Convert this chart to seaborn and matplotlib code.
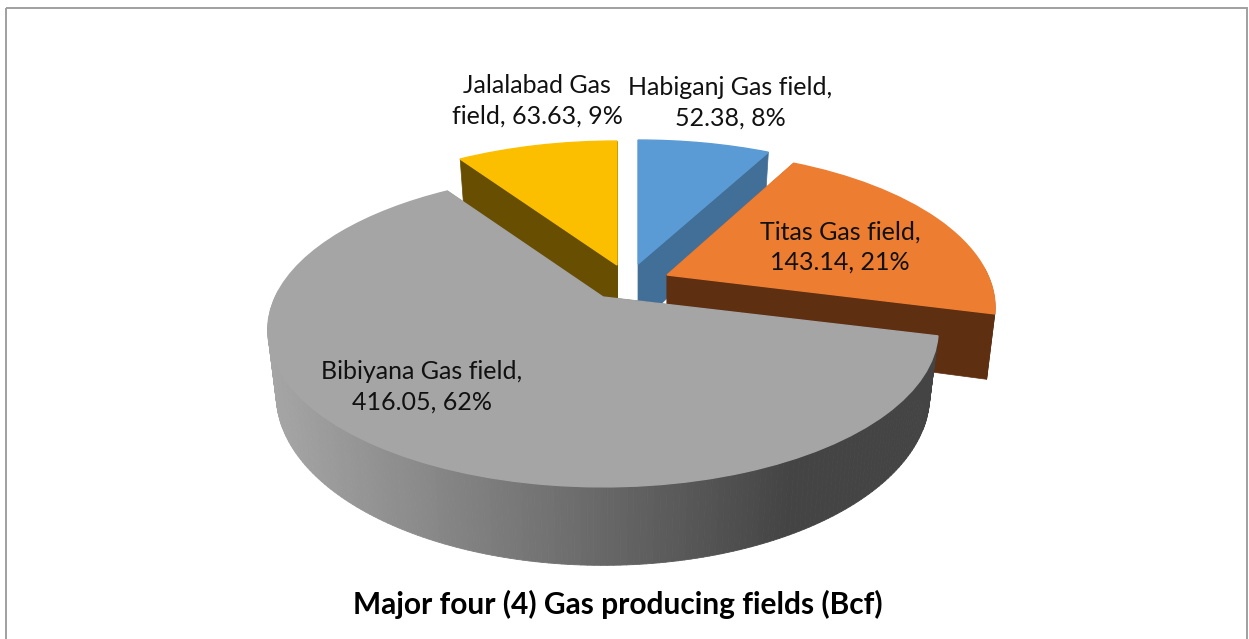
import numpy as np
import matplotlib
matplotlib.use("Agg")
import matplotlib.pyplot as plt
import matplotlib.transforms as mtransforms
from matplotlib.collections import PolyCollection
from matplotlib.colors import to_rgb
from matplotlib.patches import Rectangle
import seaborn as sns

# ---- data ----
fields = ["Habiganj Gas field", "Titas Gas field", "Bibiyana Gas field", "Jalalabad Gas\nfield"]
values = [52.38, 143.14, 416.05, 63.63]
separators = [",\n", ",\n", ",\n", ", "]
title_text = "Major four (4) Gas producing fields (Bcf)"

# ---- styling / layout ----
top_colors = ["#5B9BD5", "#ED7D31", "#A5A5A5", "#FCBF00"]
wall_colors = ["#416F98", "#5F2F12", "#444444", "#674E00"]
apex_x = [638, 667, 603, 617]
apex_y = [264, 275, 297, 265]
x_scale = [1.0, 0.972, 0.993, 1.0]
draw_order = [3, 0, 1, 2]
label_pos = [(730, 103), (840, 247), (422, 387), (537, 101)]
RX, RY, PERSP, DROP, SHRINK = 330, 150, 0.21, 62, 0.975

sns.set_theme(style="white")
plt.rcParams["font.family"] = ["Lato", "DejaVu Sans"]


class PieProjection(mtransforms.Transform):
    """Tilted-disc perspective from pie units to pixel coordinates."""
    input_dims = 2
    output_dims = 2
    is_separable = False

    def __init__(self, cx, cy, scale=1.0, drop=0.0):
        super().__init__()
        self.cx, self.cy, self.scale, self.drop = cx, cy, scale, drop

    def transform_non_affine(self, xy):
        xy = np.asarray(xy, dtype=float)
        w = 1 + PERSP * xy[:, 1]
        return np.column_stack([self.cx + self.scale * RX * xy[:, 0] / w,
                                self.cy + (self.drop - RY * xy[:, 1]) / w])


fig, ax = plt.subplots(figsize=(12.49, 6.39), dpi=100)
fig.subplots_adjust(0, 0, 1, 1)
wedges, _ = ax.pie(values, colors=top_colors, startangle=90, counterclock=False, radius=1)
ax.set_aspect("auto")
ax.set_xlim(0, 1249)
ax.set_ylim(639, 0)
ax.axis("off")

for k, i in enumerate(draw_order):
    wedge = wedges[i]
    cx, cy = apex_x[i], apex_y[i]
    top = PieProjection(cx, cy, x_scale[i])
    low = PieProjection(cx, cy, x_scale[i] * SHRINK, DROP)
    z = 2 + 2 * k
    wedge.set_transform(top + ax.transData)
    wedge.set_zorder(z + 1)
    wedge.set_edgecolor(top_colors[i])
    wedge.set_linewidth(1.0)

    t = np.radians(np.linspace(wedge.theta1, wedge.theta2, 240))
    rim = np.column_stack([np.cos(t), np.sin(t)])
    rim_top = top.transform(rim)
    rim_low = low.transform(rim)
    wall = wall_colors[i]
    # the two cut faces
    for end in (0, -1):
        p = rim[[end]]
        o = np.zeros((1, 2))
        quad = np.vstack([top.transform(o), top.transform(p), low.transform(p), low.transform(o)])
        ax.fill(quad[:, 0], quad[:, 1], color=wall, lw=0.5, zorder=z)
    # outer curved wall, only the part that faces the viewer
    front = rim[:, 1] < 0.05
    if i == 2:
        polys, cols = [], []
        light = np.array(to_rgb("#A5A5A5"))
        dark = np.array(to_rgb(wall))
        for j in range(len(t) - 1):
            if front[j] and front[j + 1]:
                polys.append([rim_top[j], rim_top[j + 1], rim_low[j + 1], rim_low[j]])
                f = np.clip((rim_top[j, 0] - 272) / (790 - 272), 0, 1)
                cols.append(light + (dark - light) * f)
        ax.add_collection(PolyCollection(polys, facecolors=cols, edgecolors=cols, linewidths=0.6, zorder=z),
                          autolim=False)
    elif front.any():
        poly = np.vstack([rim_top[front], rim_low[front][::-1]])
        ax.fill(poly[:, 0], poly[:, 1], color=wall, lw=0.5, zorder=z)

total = sum(values)
for name, val, sep, (x, y) in zip(fields, values, separators, label_pos):
    ax.text(x, y, f"{name}{sep}{val:.2f}, {100 * val / total:.0f}%", ha="center", va="center",
            fontsize=18, color="#111111", linespacing=1.4, zorder=20)

ax.text(618, 604, title_text, ha="center", va="center", fontsize=21.5, fontweight="bold",
        color="black", zorder=20)

ax.add_patch(Rectangle((6.5, 7.5), 1241, 660, fill=False, edgecolor="#A0A0A0", lw=1.4, zorder=30))

fig.savefig("out.png", dpi=100, facecolor="white")
